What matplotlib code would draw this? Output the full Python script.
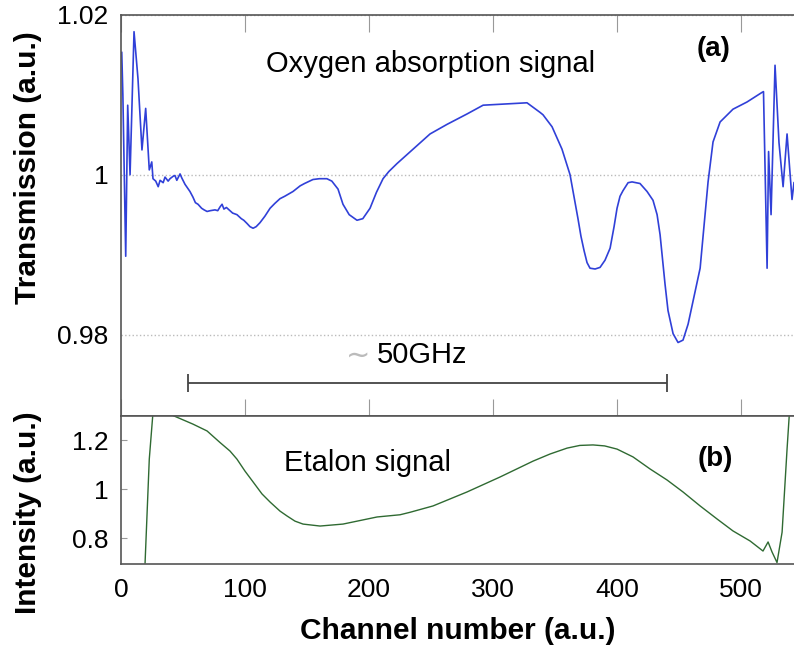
import matplotlib.pyplot as plt
from matplotlib.ticker import FormatStrFormatter

plt.rcParams['font.family'] = ['Liberation Sans', 'DejaVu Sans']

# oxygen absorption trace (channel, transmission)
oxy_channel = [0.6, 1.5, 3.8, 5.4, 7.3, 10.5, 13.7, 16.9, 19.9, 22.8, 24.8, 25.8,
               28, 30, 31.5, 34, 35.5, 38, 39.5, 42, 43.5, 45, 47.6, 49, 51.6,
               55.6, 58, 60, 62.1, 65, 67, 69.4, 72, 75.8, 78, 80, 81.5, 83, 85,
               87.9, 90, 93.5, 97, 99, 101.6, 104, 106.5, 109, 112.1, 116, 120.2,
               124, 128.2, 132, 138.7, 144.4, 148, 154.8, 160, 166, 170,
               175, 179, 184, 190.3, 195, 200.8, 206, 211.3, 216, 222.6,
               235.5, 249.2, 262.9, 279, 292, 327.4, 337.9, 340.3, 347.6, 355.6,
               362.1, 366.1, 368.5, 370.9, 373.4, 375.8, 378.2, 382.3, 386.3, 390.3,
               394.4, 397.6, 400, 402.4, 404.8, 408.9, 412.1, 418.5, 424.2, 429,
               432.3, 434.7, 438.7, 441.1, 445.2, 449.2, 453.2, 457.3, 461.3, 467,
               471, 473.4, 477.4, 483.1, 493.5, 504.8, 516.9, 518.1, 521, 522.2,
               524.2, 527.4, 530.6, 533.9, 537.1, 541.1, 542.7]
oxy_value = [1.0153, 1.0100, 0.9898, 1.0087, 1.0000, 1.0179, 1.0120, 1.0031, 1.0083,
             1.0006, 1.0016, 0.9995, 0.9992, 0.9985, 0.9993, 0.9990, 0.9997, 0.9992,
             0.9995, 0.9998, 0.9999, 0.9993, 1.0001, 0.9996, 0.9988, 0.9979, 0.9972,
             0.9965, 0.9963, 0.9958, 0.9956, 0.9954, 0.9955, 0.9956, 0.9955, 0.9960,
             0.9963, 0.9957, 0.9959, 0.9955, 0.9952, 0.9950, 0.9945, 0.9943, 0.9939,
             0.9935, 0.9933, 0.9935, 0.9940, 0.9948, 0.9958, 0.9964, 0.9970, 0.9973,
             0.9979, 0.9986, 0.9989, 0.9994, 0.9995, 0.9995, 0.9992,
             0.9982, 0.9963, 0.9950, 0.9943, 0.9945, 0.9958, 0.9978, 0.9995, 1.0004,
             1.0014, 1.0032, 1.0051, 1.0063, 1.0076, 1.0087, 1.0090, 1.0078, 1.0075,
             1.0060, 1.0032, 1.0000, 0.9966, 0.9945, 0.9923, 0.9905, 0.9890, 0.9883,
             0.9882, 0.9884, 0.9893, 0.9908, 0.9935, 0.9958, 0.9973, 0.9980, 0.9990,
             0.9991, 0.9989, 0.9979, 0.9968, 0.9950, 0.9925, 0.9863, 0.9830, 0.9801,
             0.9790, 0.9793, 0.9813, 0.9842, 0.9883, 0.9950, 0.9991, 1.0041, 1.0066,
             1.0082, 1.0091, 1.0103, 1.0104, 0.9883, 1.0029, 0.9950, 1.0137, 1.0040,
             0.9985, 1.0051, 0.9969, 0.9990]

# etalon trace (channel, intensity)
etalon_channel = [19.4, 22.8, 25.6, 33, 41.9, 58, 69.4, 79.8, 87.9, 93.5, 100,
                  106.5, 113.7, 120.2, 128.2, 133.9, 140.3, 146.8, 160.5, 179,
                  206.5, 225, 233, 251.6, 279, 305.6, 332.3, 346, 359.7, 370, 380.6,
                  390, 400, 412.9, 426.6, 440.3, 453.2, 467, 480.6, 493.5, 507.3,
                  517.7, 521.8, 525, 529, 533.1, 537.1, 539.5]
etalon_value = [0.698, 1.122, 1.30, 1.34, 1.30, 1.265, 1.237, 1.19, 1.155, 1.122,
                1.073, 1.029, 0.980, 0.947, 0.910, 0.890, 0.869, 0.857, 0.849,
                0.857, 0.886, 0.895, 0.905, 0.931, 0.988, 1.049, 1.114, 1.143,
                1.167, 1.178, 1.18, 1.176, 1.163, 1.131, 1.082, 1.037, 0.988, 0.931,
                0.878, 0.829, 0.788, 0.747, 0.784, 0.743, 0.700, 0.824, 1.163, 1.35]

top_ticks = [0.98, 1.0, 1.02]
bottom_ticks = [0.8, 1.0, 1.2]
x_ticks = [0, 100, 200, 300, 400, 500]
span_start, span_end = 54, 440

spine_col = '#555555'
fig = plt.figure(figsize=(7.94, 6.48), dpi=100)
ax1 = fig.add_axes([0.1524, 0.358, 0.8476, 0.619])
ax2 = fig.add_axes([0.1524, 0.1296, 0.8476, 0.2284], sharex=ax1)

ax1.plot(oxy_channel, oxy_value, color='#3040d8', lw=1.2)
ax2.plot(etalon_channel, etalon_value, color='#2f6a32', lw=1.0)

ax1.set_xlim(0, 542.7)
ax1.set_ylim(0.9698, 1.0198)
ax2.set_ylim(0.694, 1.298)

ax1.set_yticks(top_ticks)
ax2.set_yticks(bottom_ticks)
ax1.set_xticks(x_ticks)
ax1.yaxis.set_major_formatter(FormatStrFormatter('%g'))
ax2.yaxis.set_major_formatter(FormatStrFormatter('%g'))

for ax in (ax1, ax2):
    for s in ax.spines.values():
        s.set_color(spine_col)
        s.set_linewidth(1.2)
    ax.spines['right'].set_visible(False)

ax1.grid(axis='y', color='#bbbbbb', linestyle=':', linewidth=1)
ax1.tick_params(axis='x', direction='in', top=True, bottom=True, length=12,
                color='#999999', labelbottom=False)
ax1.tick_params(axis='y', length=0, pad=9, labelsize=19)
ax2.tick_params(axis='x', length=0, pad=10, labelsize=19)
ax2.tick_params(axis='y', direction='in', length=4, color='#999999', pad=9,
                labelsize=19)

ax1.set_ylabel('Transmission (a.u.)', fontsize=21.5, fontweight='bold')
ax1.yaxis.set_label_coords(-0.117, 0.62)
ax2.set_ylabel('Intensity (a.u.)', fontsize=21.5, fontweight='bold')
ax2.yaxis.set_label_coords(-0.117, 0.35)
ax2.set_xlabel('Channel number (a.u.)', fontsize=21.5, fontweight='bold',
               labelpad=11)

ax1.text(250, 1.0128, 'Oxygen absorption signal', fontsize=21, ha='center',
         va='baseline')
ax1.text(478, 1.0149, '(a)', fontsize=20, fontweight='bold', ha='center',
         va='baseline')
ax1.text(191, 0.9773, '\u223c', fontsize=21, color='#bbbbbb', ha='center',
         va='center', family='DejaVu Sans')
ax1.text(206.5, 0.9764, '50GHz', fontsize=21, ha='left', va='baseline')
ax1.hlines(0.9739, span_start, span_end, color='#444444', lw=1.3)
ax1.vlines([span_start, span_end], 0.9728, 0.9750, color='#444444', lw=1.3)

ax2.text(198.8, 1.073, 'Etalon signal', fontsize=21, ha='center', va='baseline')
ax2.text(479, 1.094, '(b)', fontsize=20, fontweight='bold', ha='center',
         va='baseline')

fig.savefig('out.png', dpi=100)
